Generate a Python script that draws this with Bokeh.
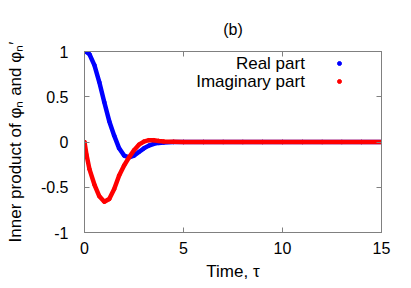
from bokeh.plotting import figure
from bokeh.models import (Range1d, LinearAxis, FixedTicker, CustomJSTickFormatter,
                          Legend, LegendItem, Label)
from bokeh.embed import file_html
from bokeh.resources import INLINE

# ---- data ----
time = [0.0, 0.1, 0.25, 0.5, 0.75, 1.0, 1.25, 1.5, 1.75, 2.0, 2.25, 2.5, 2.75,
        3.0, 3.25, 3.5, 3.75, 4.0, 4.5, 5.0, 6, 7, 8, 9, 10, 11, 12, 13, 14, 15]
real_part = [1.0, 0.995, 0.97, 0.85, 0.66, 0.44, 0.23, 0.07, -0.07, -0.15, -0.17,
             -0.15, -0.11, -0.07, -0.04, -0.02, -0.01, -0.005, 0.0, 0.0,
             0, 0, 0, 0, 0, 0, 0, 0, 0, 0]
imag_part = [0.0, -0.14, -0.30, -0.47, -0.60, -0.66, -0.63, -0.52, -0.37, -0.26,
             -0.17, -0.09, -0.03, 0.005, 0.02, 0.02, 0.012, 0.006, 0.002, 0.0,
             0, 0, 0, 0, 0, 0, 0, 0, 0, 0]
x_ticks = [0, 5, 10, 15]
y_ticks = [-1, -0.5, 0, 0.5, 1]
series_names = ["Real part", "Imaginary part"]
panel_title = "(b)"

FONT = "Liberation Sans"
GRAY = "#808080"

p = figure(frame_width=297, frame_height=181, output_backend="svg",
           toolbar_location=None, title=None,
           x_range=Range1d(0, 15), y_range=Range1d(-1, 1),
           min_border_left=84, min_border_right=22, min_border_top=51,
           min_border_bottom=56)
p.grid.visible = False
p.outline_line_color = GRAY
p.background_fill_color = "white"
p.border_fill_color = "white"

r_line = p.line(time, real_part, line_width=4.5, color="#0000ff",
                line_join="round", line_cap="round")
r_pts = p.scatter(time, real_part, size=3.5, color="#0000ff")
i_line = p.line(time, imag_part, line_width=4.5, color="#ff0000",
                line_join="round", line_cap="round")
i_pts = p.scatter(time, imag_part, size=3.5, color="#ff0000")


def style(ax, ticks, labels=True):
    ax.ticker = FixedTicker(ticks=ticks)
    ax.axis_line_color = GRAY
    ax.major_tick_line_color = GRAY
    ax.major_tick_in = 5
    ax.major_tick_out = 0
    ax.minor_tick_line_color = None
    ax.major_label_text_font = FONT
    ax.major_label_text_font_size = "16px"
    ax.major_label_text_color = "black"
    ax.axis_label_text_font = FONT
    ax.axis_label_text_font_size = "17px"
    ax.axis_label_text_font_style = "normal"
    ax.axis_label_text_color = "black"
    if not labels:
        ax.formatter = CustomJSTickFormatter(code="return ''")
        ax.major_label_standoff = 0


xa = p.xaxis[0]
style(xa, x_ticks)
xa.major_label_standoff = 9
xa.axis_label = "Time, τ"
xa.axis_label_standoff = 5

ya = p.yaxis[0]
style(ya, y_ticks)
ya.formatter = CustomJSTickFormatter(code="return tick.toString()")
ya.major_label_standoff = 16
ya.axis_label = "Inner product of φₙ and φₙ′"
ya.axis_label_standoff = 13

top_ax = LinearAxis(axis_label=panel_title)
style(top_ax, x_ticks, labels=False)
top_ax.axis_label_text_font_size = "16px"
top_ax.axis_label_standoff = 14
p.add_layout(top_ax, "above")
right_ax = LinearAxis()
style(right_ax, y_ticks, labels=False)
p.add_layout(right_ax, "right")

# legend: text right-aligned, key dot to its right (gnuplot style)
legend = Legend(items=[LegendItem(label=" ", renderers=[r_pts]),
                       LegendItem(label=" ", renderers=[i_pts])],
                location=(250, 142), border_line_color=None,
                background_fill_alpha=0, padding=0, margin=0, spacing=0,
                glyph_height=18, glyph_width=10, label_height=18,
                label_standoff=0, label_text_font_size="1px")
p.add_layout(legend, "center")

for name, yv in zip(series_names, [0.87, 0.67]):
    p.add_layout(Label(x=11.13, y=yv, text=name, text_align="right",
                       text_baseline="middle", text_font=FONT,
                       text_font_size="17px", text_color="black"))

open("out.html", "w").write(file_html(p, INLINE))
